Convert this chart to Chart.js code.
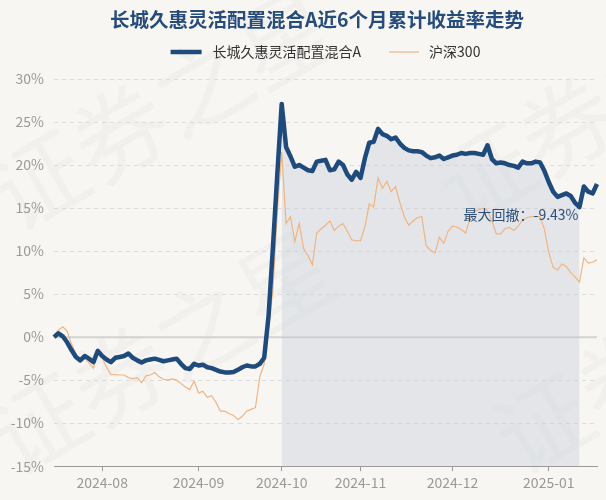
<!DOCTYPE html>
<html><head><meta charset="utf-8">
<script src="https://cdn.jsdelivr.net/npm/chart.js@4/dist/chart.umd.min.js"></script>
<style>html,body{margin:0;padding:0;background:#f8f6f2;}#wrap{width:606px;height:500px;position:relative;}</style>
</head><body><div id="wrap"><canvas id="c" width="606" height="500"></canvas></div>
<script>
const FONT = '"Noto Sans CJK SC", "Noto Sans", sans-serif';
const titleText = '长城久惠灵活配置混合A近6个月累计收益率走势';
const seriesNames = ['长城久惠灵活配置混合A', '沪深300'];
const seriesColors = ['#1f4a7c', '#f0b483'];
const firstDay = '2024-07-17';
const lastDay = '2025-01-17';
const holidays = ['2024-09-16','2024-09-17','2024-10-01','2024-10-02','2024-10-03','2024-10-04','2024-10-07','2025-01-01'];
const yTickStep = 5;
const yMin = -15, yMax = 30;
const watermarkText = '证券之星';

const fundValues = [
  0.0, 0.45, 0.1, -0.6, -1.5, -2.3, -2.7, -2.2, -2.5, -2.9, -1.6, -2.2,
  -2.6, -2.9, -2.4, -2.3, -2.2, -1.9, -2.4, -2.7, -2.95, -2.7, -2.6, -2.5,
  -2.65, -2.8, -2.7, -2.6, -2.5, -3.1, -3.6, -3.7, -3.1, -3.3, -3.2, -3.5,
  -3.6, -3.8, -4.0, -4.1, -4.1, -4.05, -3.8, -3.5, -3.3, -3.4, -3.4, -3.1,
  -2.4, 2.5, 10.5, 19.0, 27.1,
  22.1, 21.0, 19.8, 20.0, 19.7, 19.4, 19.3, 20.4, 20.5, 20.6, 19.4, 19.5,
  20.4, 20.0, 18.9, 18.3, 19.2, 18.5, 20.8, 22.6, 22.7, 24.2, 23.6, 23.4,
  23.0, 23.2, 22.5, 22.0, 21.7, 21.6, 21.6, 21.5, 21.1, 20.8, 20.9, 21.1,
  20.7, 20.9, 21.1, 21.2, 21.4, 21.3, 21.4, 21.4, 21.3, 21.2, 22.3, 20.7,
  20.2, 20.3, 20.2, 20.0, 19.9, 19.7, 20.4, 20.2, 20.2, 20.4, 20.3, 19.3,
  18.0, 16.9, 16.3, 16.5, 16.7, 16.4, 15.6, 15.11, 17.5, 16.9, 16.7, 17.8
];
const hs300Values = [
  0.0, 0.8, 1.2, 0.7, -0.8, -1.9, -2.7, -2.5, -3.0, -3.6, -1.6, -2.4,
  -3.5, -4.35, -4.35, -4.4, -4.4, -4.7, -4.85, -4.7, -5.3, -4.5, -4.4, -4.1,
  -4.6, -4.9, -5.0, -4.85, -5.0, -5.4, -5.8, -6.1, -5.1, -6.5, -6.3, -7.0,
  -6.8, -7.6, -8.6, -8.6, -8.9, -9.1, -9.6, -9.2, -8.6, -8.4, -8.2, -4.6,
  -3.1, 1.0, 5.6, 14.6, 21.5, 13.2, 14.0, 11.1, 13.2, 10.3, 9.5, 8.4,
  12.1, 12.6, 13.0, 13.5, 12.4, 12.9, 13.2, 12.3, 11.3, 11.2, 11.2, 12.8,
  15.5, 15.1, 18.5, 17.3, 18.1, 16.9, 17.5, 15.6, 14.0, 13.0, 13.5, 13.9,
  14.0, 10.6, 10.1, 9.8, 11.6, 10.9, 12.3, 12.9, 12.8, 12.5, 12.1, 13.8,
  14.6, 14.8, 15.0, 14.7, 13.5, 12.0, 12.0, 12.6, 12.75, 12.4, 12.9, 13.6,
  13.9, 14.0, 14.0, 14.0, 12.5, 9.8, 8.1, 7.8, 8.5, 8.2, 7.5, 7.0,
  6.4, 9.2, 8.6, 8.7, 9.0
];

function buildDates(a, b, skip) {
  const out = [];
  const d = new Date(a + 'T00:00:00Z'), end = new Date(b + 'T00:00:00Z');
  while (d <= end) {
    const s = d.toISOString().slice(0, 10);
    const wd = d.getUTCDay();
    if (wd !== 0 && wd !== 6 && skip.indexOf(s) < 0) out.push(s);
    d.setUTCDate(d.getUTCDate() + 1);
  }
  return out;
}
const dates = buildDates(firstDay, lastDay, holidays);

function maxDrawdown(vals) {
  let peakI = 0, best = 0, bp = 0, bt = 0;
  for (let i = 0; i < vals.length; i++) {
    if (vals[i] > vals[peakI]) peakI = i;
    const dd = (1 + vals[i] / 100) / (1 + vals[peakI] / 100) - 1;
    if (dd < best) { best = dd; bp = peakI; bt = i; }
  }
  return { value: best, peak: bp, trough: bt };
}
const mdd = maxDrawdown(fundValues);
const ddFill = fundValues.map((v, i) => (i >= mdd.peak && i <= mdd.trough) ? v : null);

const deco = {
  id: 'deco',
  beforeDraw(chart) {
    const ctx = chart.ctx;
    ctx.save();
    ctx.fillStyle = 'rgba(120,120,120,0.045)';
    ctx.font = '95px ' + FONT;
    [[15, 235], [15, 478], [462, 228], [520, 478]].forEach(p => {
      ctx.save();
      ctx.translate(p[0], p[1]);
      ctx.rotate(-Math.PI / 6);
      ctx.fillText(watermarkText, 0, 0);
      ctx.restore();
    });
    ctx.restore();
  },
  beforeDatasetsDraw(chart) {
    const { ctx, chartArea, scales } = chart;
    const y = scales.y.getPixelForValue(0);
    ctx.save();
    ctx.strokeStyle = '#d2d2d2';
    ctx.lineWidth = 2;
    ctx.beginPath();
    ctx.moveTo(chartArea.left, y);
    ctx.lineTo(chartArea.right, y);
    ctx.stroke();
    ctx.restore();
  },
  afterDatasetsDraw(chart) {
    const { ctx, scales, chartArea } = chart;
    const x = scales.x.getPixelForValue(mdd.trough);
    const y = scales.y.getPixelForValue(fundValues[mdd.trough]);
    ctx.save();
    ctx.font = '14px ' + FONT;
    ctx.fillStyle = '#2c4e78';
    ctx.textAlign = 'right';
    ctx.textBaseline = 'middle';
    ctx.fillText('最大回撤：' + (mdd.value * 100).toFixed(2) + '%', x - 1, y + 8);

    // title
    ctx.textAlign = 'center';
    ctx.font = 'bold 19.5px ' + FONT;
    ctx.fillStyle = '#264c7c';
    ctx.fillText(titleText, 317, 20);

    // legend
    ctx.font = '14px ' + FONT;
    const w1 = ctx.measureText(seriesNames[0]).width;
    const w2 = ctx.measureText(seriesNames[1]).width;
    const total = 31 + 11 + w1 + 28 + 30 + 10 + w2;
    let lx = (chartArea.left + chartArea.right) / 2 - total / 2;
    const ly = 52;
    ctx.textAlign = 'left';
    ctx.lineCap = 'butt';
    ctx.strokeStyle = seriesColors[0]; ctx.lineWidth = 4.5;
    ctx.beginPath(); ctx.moveTo(lx, ly); ctx.lineTo(lx + 31, ly); ctx.stroke();
    lx += 42;
    ctx.fillStyle = '#333';
    ctx.fillText(seriesNames[0], lx, ly);
    lx += w1 + 28;
    ctx.strokeStyle = seriesColors[1]; ctx.lineWidth = 1.2;
    ctx.beginPath(); ctx.moveTo(lx, ly); ctx.lineTo(lx + 30, ly); ctx.stroke();
    lx += 40;
    ctx.fillText(seriesNames[1], lx, ly);
    ctx.restore();
  }
};

new Chart(document.getElementById('c'), {
  type: 'line',
  data: {
    labels: dates,
    datasets: [
      { label: seriesNames[0], data: fundValues, borderColor: seriesColors[0], backgroundColor: seriesColors[0],
        borderWidth: 4.5, pointRadius: 0, tension: 0, borderJoinStyle: 'round', fill: false, order: 1 },
      { label: seriesNames[1], data: hs300Values, borderColor: seriesColors[1], backgroundColor: seriesColors[1],
        borderWidth: 1.2, pointRadius: 0, tension: 0, fill: false, order: 2 },
      { label: 'dd', data: ddFill, borderWidth: 0, borderColor: 'rgba(0,0,0,0)', pointRadius: 0,
        backgroundColor: 'rgba(191,203,216,0.38)', fill: 'start', order: 3, spanGaps: false }
    ]
  },
  options: {
    responsive: false, animation: false, devicePixelRatio: 1,
    layout: { padding: { left: 10, right: 9, top: 79, bottom: 6 } },
    plugins: {
      title: { display: false },
      legend: { display: false },
      tooltip: { enabled: false }
    },
    scales: {
      x: {
        type: 'category',
        grid: { display: true, drawOnChartArea: false, tickLength: 5, color: '#999' },
        border: { display: true, color: '#999', width: 1 },
        ticks: { autoSkip: false, maxRotation: 0, color: '#999', padding: 3,
          font: { size: 14, family: FONT },
          callback: function (value, index) {
            const s = dates[index];
            if (index === 0) return null;
            if (s.slice(0, 7) !== dates[index - 1].slice(0, 7)) return s.slice(0, 7);
            return null;
          } }
      },
      y: {
        min: yMin, max: yMax,
        afterFit: s => { s.width = 44; },
        grid: { color: '#dcdcdc', drawTicks: false, lineWidth: 1 },
        border: { display: false, dash: [4, 4] },
        ticks: { stepSize: yTickStep, color: '#999', padding: 10, font: { size: 14, family: FONT },
          callback: v => v + '%' }
      }
    }
  },
  plugins: [deco]
});
</script></body></html>
